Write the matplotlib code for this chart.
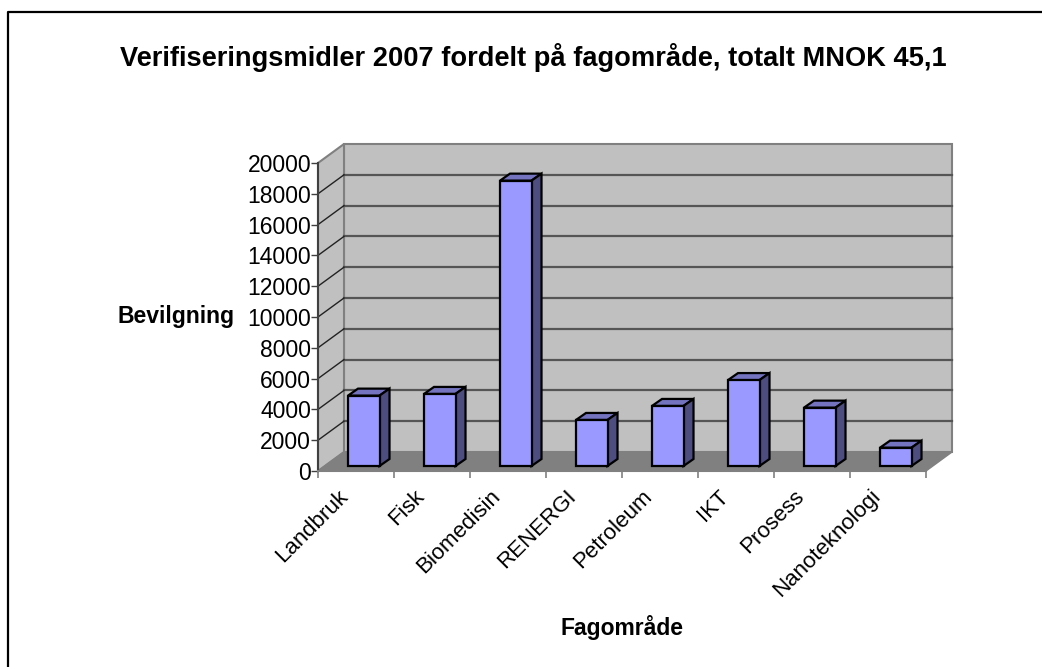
import matplotlib
matplotlib.use('Agg')
import matplotlib.pyplot as plt
from matplotlib.lines import Line2D
from matplotlib.patches import Polygon, Rectangle

categories = ['Landbruk', 'Fisk', 'Biomedisin', 'RENERGI', 'Petroleum', 'IKT', 'Prosess', 'Nanoteknologi']
values = [4570, 4680, 18530, 2990, 3900, 5580, 3790, 1190]
y_ticks = list(range(0, 20001, 2000))

W, H = 1042, 667
plt.rcParams['font.family'] = ['Liberation Sans', 'DejaVu Sans']

fig = plt.figure(figsize=(W / 100, H / 100), dpi=100)
# plot box in pixels of the picture
left, right, bottom, top = 318, 926, 471, 163
ax = fig.add_axes([left / W, 1 - bottom / H, (right - left) / W, (bottom - top) / H])
ax.set_xlim(0, len(categories))
ax.set_ylim(0, 20000)
ax.patch.set_visible(False)

px_x = len(categories) / (right - left)
px_y = 20000 / (bottom - top)
dx, dy = 26 * px_x, 19 * px_y  # depth of the box
n = len(categories)

# walls and floor
ax.add_patch(Polygon([(dx, dy), (n + dx, dy), (n + dx, 20000 + dy), (dx, 20000 + dy)], fc='#c0c0c0', ec='#808080', lw=1.5, clip_on=False, zorder=1))
ax.add_patch(Polygon([(0, 0), (dx, dy), (dx, 20000 + dy), (0, 20000)], fc='#c0c0c0', ec='#808080', lw=1.5, clip_on=False, zorder=1))
ax.add_patch(Polygon([(0, 0), (n, 0), (n + dx, dy), (dx, dy)], fc='#808080', ec='#808080', lw=1, clip_on=False, zorder=1))

# gridlines, the top one is the wall edge
for t in y_ticks[1:-1]:
    ax.plot([dx, n + dx], [t + dy, t + dy], color='#555555', lw=1.6, clip_on=False, zorder=2)
    ax.plot([0, dx], [t, t + dy], color='#222222', lw=1, clip_on=False, zorder=2)

# bars
bar_w = 31.5 * px_x
bx, by = 10 * px_x, 7 * px_y  # depth of one bar
off_x, off_y = 7 * px_x, 5 * px_y
for i, v in enumerate(values):
    x0 = i + 0.5 - bar_w / 2 + off_x + 0.01
    x1 = x0 + bar_w
    y0 = off_y
    y1 = v + off_y
    ax.add_patch(Rectangle((x0, y0), bar_w, v, fc='#9999ff', ec='black', lw=1.6, clip_on=False, zorder=4))
    ax.add_patch(Polygon([(x0, y1), (x1, y1), (x1 + bx, y1 + by), (x0 + bx, y1 + by)], fc='#7373bf', ec='black', lw=1.6, clip_on=False, zorder=3))
    ax.add_patch(Polygon([(x1, y0), (x1 + bx, y0 + by), (x1 + bx, y1 + by), (x1, y1)], fc='#4d4d80', ec='black', lw=1.6, clip_on=False, zorder=3))

# axes
for s in ['top', 'right']:
    ax.spines[s].set_visible(False)
ax.spines['left'].set(color='#404040', linewidth=1.5)
ax.spines['bottom'].set(color='#808080', linewidth=1.5)
ax.set_yticks(y_ticks)
ax.set_yticklabels([str(t) for t in y_ticks], fontsize=16.5)
ax.tick_params(axis='y', length=5, width=1, color='#404040', pad=0)
ax.set_xticks(range(n + 1))
ax.set_xticklabels([])
ax.tick_params(axis='x', length=5, width=1.2, color='#808080')
for i, c in enumerate(categories):
    ax.annotate(c, (i + 0.5, 0), xytext=(-13, -10.8), textcoords='offset points', rotation=45,
                ha='right', va='top', rotation_mode='anchor', fontsize=16, annotation_clip=False)

fig.text(533.5 / W, 1 - 57 / H, 'Verifiseringsmidler 2007 fordelt på fagområde, totalt MNOK 45,1', fontsize=19.65, fontweight='bold', ha='center', va='center')
fig.text(176 / W, 1 - 317 / H, 'Bevilgning', fontsize=16.6, fontweight='bold', ha='center', va='center')
fig.text(622 / W, 1 - 627 / H, 'Fagområde', fontsize=16.5, fontweight='bold', ha='center', va='center')

# chart border, only top and left fall inside the picture
fig.add_artist(Line2D([8 / W, 8 / W, 1], [0, 1 - 12 / H, 1 - 12 / H], transform=fig.transFigure, color='black', lw=1.6))

fig.savefig('out.png', dpi=100)
